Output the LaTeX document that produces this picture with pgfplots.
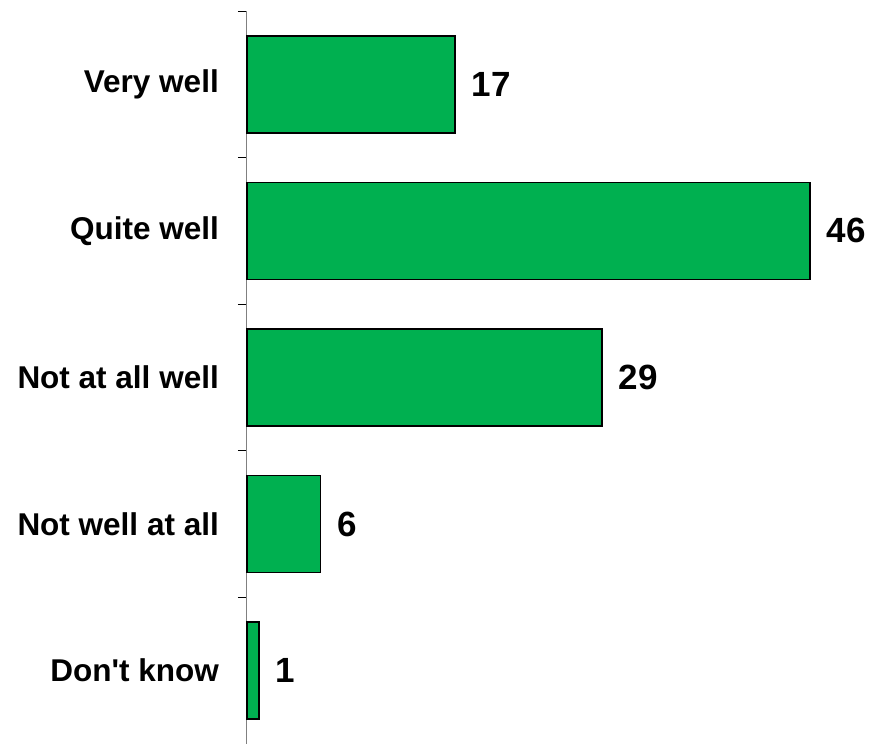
\documentclass[border=0pt]{standalone}
\usepackage{pgfplots}
\pgfplotsset{compat=1.18}
\usepackage{fontspec}
\setmainfont{Liberation Sans}
\definecolor{bargreen}{HTML}{00B050}
\definecolor{axisgray}{HTML}{808080}
\begin{document}
\begin{tikzpicture}
\begin{axis}[
  scale only axis,
  width=624pt, height=733pt,
  xbar, bar width=97pt,
  xmin=0, xmax=51,
  ymin=-0.5, ymax=4.5,
  y dir=reverse,
  axis x line=none,
  axis y line*=left,
  axis line style={axisgray, line width=1pt, -},
  ytick={0,1,2,3,4},
  yticklabels={Very well, Quite well, Not at all well, Not well at all, Don\textquotesingle t know},
  major tick length=0pt,
  minor ytick={-0.5,0.5,1.5,2.5,3.5,4.5},
  minor tick length=9pt,
  tick align=outside,
  minor tick style={black, line width=1pt},
  yticklabel style={font=\fontsize{31.5}{36}\selectfont\bfseries, anchor=east, inner sep=0pt, xshift=-28pt},
  /pgf/number format/assume math mode=true,
  nodes near coords,
  every node near coord/.append style={font=\fontsize{35}{40}\selectfont\bfseries, anchor=west, inner sep=0pt, xshift=16pt, text=black},
  clip=false,
]
\addplot[fill=bargreen, draw=black, line width=1.5pt] coordinates {(17,0) (46,1) (29,2) (6,3) (1,4)};
\coordinate (sw) at (rel axis cs:0,0);
\end{axis}
\pgfresetboundingbox
\path (sw) ++(-247pt,0) rectangle ++(871pt,744pt);
\end{tikzpicture}
\end{document}
